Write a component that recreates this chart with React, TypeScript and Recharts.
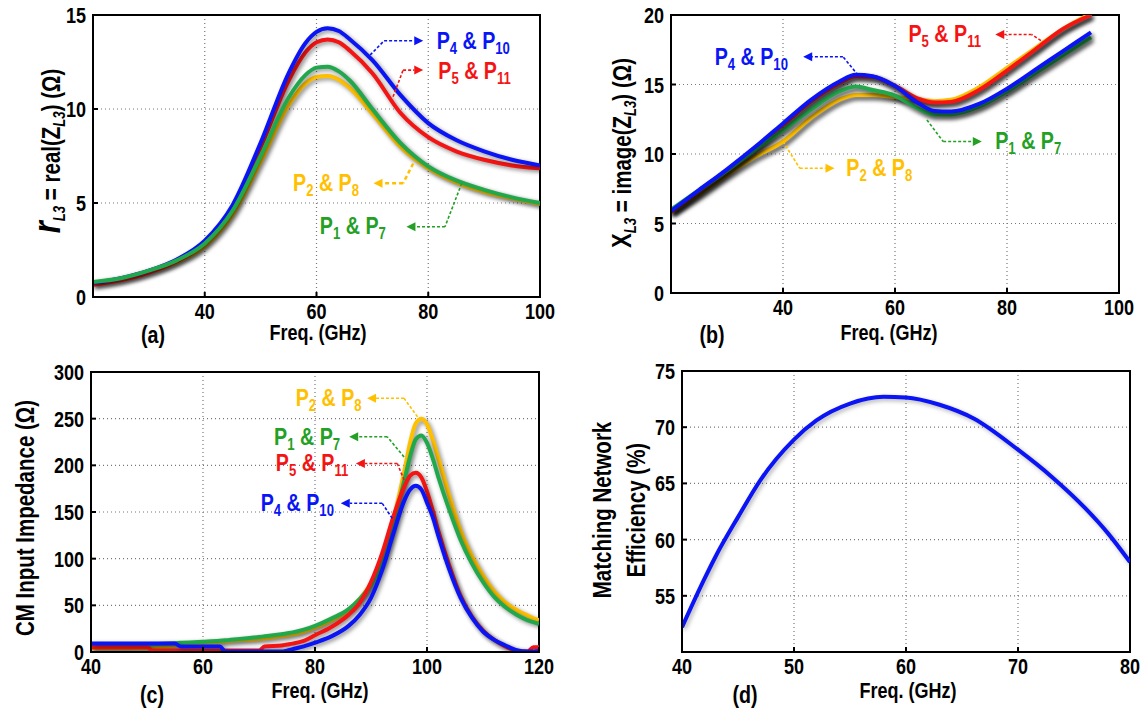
import React from "react"
import { LineChart, Line, XAxis, YAxis, CartesianGrid, ReferenceArea, ReferenceLine, ReferenceDot } from "recharts"

// no narrow font installed: squeeze Liberation Sans Bold horizontally
const FONT = '"Liberation Sans", Arial, sans-serif'
const SX = 0.82

const BLUE = "#0a14f5"
const RED = "#f51414"
const GREEN = "#22a84c"
const GREEN_TXT = "#24a024"
const ORANGE = "#ffc000"

// (a) real part of Z_L3
const freqA = [20, 25, 30, 35, 40, 45, 50, 55, 58, 60, 62, 64, 66, 70, 75, 80, 85, 90, 95, 100]
const rP4P10 = [0.75, 1.0, 1.4, 2.0, 3.0, 4.9, 8.2, 11.9, 13.5, 14.1, 14.3, 14.15, 13.7, 12.6, 10.75, 9.25, 8.35, 7.75, 7.3, 7.0]
const rP5P11 = [0.65, 0.9, 1.3, 1.9, 2.85, 4.75, 7.95, 11.5, 13.0, 13.55, 13.7, 13.55, 13.1, 11.9, 9.8, 8.5, 7.75, 7.3, 7.0, 6.85]
const rP1P7 = [0.8, 1.0, 1.4, 1.95, 2.85, 4.6, 7.5, 10.6, 11.8, 12.2, 12.25, 12.0, 11.5, 10.0, 8.2, 6.95, 6.2, 5.7, 5.3, 5.0]
const rP2P8 = [0.65, 0.9, 1.3, 1.85, 2.7, 4.4, 7.2, 10.2, 11.35, 11.7, 11.75, 11.55, 11.1, 9.75, 8.0, 6.85, 6.1, 5.6, 5.25, 4.95]

// (b) imaginary part of Z_L3
const freqB = [20, 25, 30, 35, 40, 45, 50, 53, 56, 60, 64, 67, 70, 75, 80, 85, 90, 95]
const xP4P10 = [5.9, 7.4, 8.9, 10.5, 12.2, 13.9, 15.2, 15.7, 15.6, 14.9, 13.7, 13.1, 13.05, 13.6, 14.7, 16.05, 17.4, 18.75]
const xP5P11 = [5.85, 7.35, 8.85, 10.45, 12.1, 13.8, 15.1, 15.6, 15.55, 14.9, 14.0, 13.7, 13.75, 14.6, 16.0, 17.5, 19.0, 20.0]
const xP1P7 = [6.0, 7.4, 8.8, 10.3, 11.7, 13.2, 14.5, 14.85, 14.6, 14.2, 13.3, 12.85, 12.85, 13.4, 14.5, 15.8, 17.1, 18.4]
const xP2P8 = [5.8, 7.1, 8.5, 9.8, 10.9, 12.6, 13.9, 14.25, 14.25, 14.1, 13.95, 13.8, 13.9, 14.8, 16.2, 17.6, 19.0, 20.1]

// (c) CM input impedance
const freqC = [40, 45, 50, 51, 55, 56, 60, 63, 64, 65, 70, 71, 74, 75, 76, 78, 80, 83, 86, 88, 90, 92, 94, 96, 97, 98, 99, 100, 101, 102, 104, 106, 108, 110, 112, 114, 116, 118, 119, 120]
const cmP4P10 = [9, 9, 9, 9, 9, 6, 6, 6, 0.5, 0.5, 0.5, 0.5, 0.5, 1.5, 3, 6, 10, 17, 28, 40, 58, 88, 127, 163, 174, 178, 174, 160, 145, 125, 88, 58, 37, 22, 13, 7, 2, 0.5, 0.5, 1]
const cmP5P11 = [5, 5, 5, 1.5, 1.5, 1.5, 1.5, 1.5, 1.5, 1.5, 1.5, 6, 7, 8, 9, 12, 18, 27, 40, 53, 75, 106, 145, 178, 189, 192, 187, 172, 152, 130, 92, 60, 38, 23, 13, 6, 1.5, 0.5, 5, 5]
const cmP1P7 = [7, 7, 8, 8.3, 9.5, 9.8, 11, 12, 12.5, 13, 16, 16.8, 19, 20, 21, 24, 28, 36, 46, 57, 72, 96, 135, 185, 210, 228, 232, 224, 208, 188, 152, 120, 95, 75, 59, 48, 40, 34, 32, 30]
const cmP2P8 = [4, 4, 4, 4, 7, 8, 10, 11, 11.5, 12, 14, 14.5, 17, 18, 19, 22, 26, 34, 45, 57, 74, 100, 142, 195, 225, 245, 250, 244, 228, 208, 167, 130, 103, 82, 65, 53, 45, 39, 36, 34]

// (d) matching network efficiency
const freqD = [40, 42, 43, 45, 47, 50, 52, 55, 58, 60, 63, 66, 70, 73, 76, 78, 80]
const effD = [52.2, 56.5, 58.5, 62.0, 65.3, 68.9, 70.6, 72.1, 72.7, 72.65, 72.0, 70.8, 68.0, 65.6, 62.8, 60.6, 58.0]

const ticksA = [40, 60, 80, 100]
const yTicksA = [0, 5, 10, 15]
const yTicksB = [0, 5, 10, 15, 20]
const ticksC = [40, 60, 80, 100, 120]
const yTicksC = [0, 50, 100, 150, 200, 250, 300]
const ticksD = [40, 50, 60, 70, 80]
const yTicksD = [55, 60, 65, 70, 75]

function rows(freq: number[], cols: Record<string, number[]>) {
  return freq.map((f, i) => {
    const r: any = { f }
    Object.keys(cols).forEach(k => (r[k] = cols[k][i]))
    return r
  })
}

const dataA = rows(freqA, { p2: rP2P8, p5: rP5P11, p4: rP4P10, p1: rP1P7 })
const dataB = rows(freqB, { p2: xP2P8, p5: xP5P11, p1: xP1P7, p4: xP4P10 })
const dataC = rows(freqC, { p2: cmP2P8, p1: cmP1P7, p5: cmP5P11, p4: cmP4P10 })
const dataD = rows(freqD, { eff: effD })

const COLORS: Record<string, string> = { p1: GREEN, p2: ORANGE, p4: BLUE, p5: RED, eff: BLUE }

type Ann = { color: string; a: string; b: string; tx: number; ty: number; path: number[][]; dw?: number }

const annA: Ann[] = [
  { color: BLUE, a: "4", b: "10", tx: 81.5, ty: 13.6, path: [[69.6, 12.87], [72.1, 13.63], [79.1, 13.63]] },
  { color: RED, a: "5", b: "11", tx: 81.8, ty: 12.0, path: [[73.7, 10.65], [75.5, 12.07], [79.1, 12.07]] },
  { color: ORANGE, a: "2", b: "8", tx: 55.8, ty: 6.05, path: [[77.3, 7.1], [75.5, 6.05], [70.2, 6.05]], dw: 2.5 },
  { color: GREEN_TXT, a: "1", b: "7", tx: 60.6, ty: 3.8, path: [[86.0, 6.05], [83.0, 3.74], [76.1, 3.74]] },
]
const annB: Ann[] = [
  { color: BLUE, a: "4", b: "10", tx: 27.8, ty: 17.0, path: [[53.4, 15.68], [50.7, 17.0], [43.6, 17.0]] },
  { color: ORANGE, a: "2", b: "8", tx: 51.3, ty: 8.97, path: [[40, 10.9], [43, 8.97], [49.2, 8.97]] },
  { color: RED, a: "5", b: "11", tx: 62.4, ty: 18.6, path: [[86.8, 17.96], [84.4, 18.6], [77.9, 18.6]] },
  { color: GREEN_TXT, a: "1", b: "7", tx: 77.9, ty: 10.9, path: [[65.7, 12.45], [68.6, 10.9], [75.5, 10.9]] },
]
const annC: Ann[] = [
  { color: ORANGE, a: "2", b: "8", tx: 76.55, ty: 271.8, path: [[98.3, 252], [95.9, 271.8], [89.3, 271.8]] },
  { color: GREEN_TXT, a: "1", b: "7", tx: 72.7, ty: 230.7, path: [[95.9, 209], [92.9, 230.7], [86.1, 230.7]] },
  { color: RED, a: "5", b: "11", tx: 73.0, ty: 202, path: [[95.9, 184.3], [94.7, 202], [87.3, 202]] },
  { color: BLUE, a: "4", b: "10", tx: 70.3, ty: 159.3, path: [[93.8, 143.2], [92, 159.3], [84.6, 159.3]] },
]

function NText({ x, y, anchor, size, fill, rotate, children }: any) {
  const t = `translate(${x},${y})${rotate ? " rotate(-90)" : ""} scale(${SX},1)`
  return (
    <text transform={t} textAnchor={anchor || "start"} fontSize={size} fontFamily={FONT} fontWeight={700} fill={fill || "#000"}>
      {children}
    </text>
  )
}

function ArrowSeg(p: any) {
  const { x1, y1, x2, y2, color, head, dw } = p
  const ang = Math.atan2(y2 - y1, x2 - x1)
  const L = 9, W = 4.5
  const bx = x2 - L * Math.cos(ang), by = y2 - L * Math.sin(ang)
  const px = -Math.sin(ang) * W, py = Math.cos(ang) * W
  return (
    <g>
      <line x1={x1} y1={y1} x2={head ? bx : x2} y2={head ? by : y2} stroke={color} strokeWidth={dw || 1.6} strokeDasharray={dw ? "4 3" : "3 2"} />
      {head && <polygon points={`${x2},${y2} ${bx + px},${by + py} ${bx - px},${by - py}`} fill={color} />}
    </g>
  )
}

function PLabel({ x, y, a, b, color }: any) {
  return (
    <NText x={x} y={y + 8} size={24} fill={color}>
      P<tspan fontSize={16} dy={5}>{a}</tspan><tspan dy={-5}> &amp; P</tspan><tspan fontSize={16} dy={5}>{b}</tspan>
    </NText>
  )
}

function annotations(list: Ann[]) {
  const out: any[] = []
  list.forEach((an, i) => {
    for (let k = 0; k < an.path.length - 1; k++) {
      const head = k === an.path.length - 2
      out.push(
        <ReferenceLine key={`l${i}-${k}`} segment={[{ x: an.path[k][0], y: an.path[k][1] }, { x: an.path[k + 1][0], y: an.path[k + 1][1] }]}
          shape={(p: any) => <ArrowSeg {...p} color={an.color} head={head} dw={an.dw} />} />
      )
    }
    out.push(
      <ReferenceDot key={`t${i}`} x={an.tx} y={an.ty} r={0}
        shape={(p: any) => <PLabel x={p.cx} y={p.cy} a={an.a} b={an.b} color={an.color} />} />
    )
  })
  return out
}

function Tick(p: any) {
  const { x, y, payload, textAnchor, verticalAnchor } = p
  const dy = verticalAnchor === "start" ? 15 : verticalAnchor === "end" ? 0 : 8
  return <NText x={x} y={y + dy} anchor={textAnchor} size={22}>{payload.value}</NText>
}

function Panel(props: any) {
  const { left, top, width, height, margin, yWidth, xHeight, data, keys, xDomain, xTicks, yDomain, yTicks, anns, shadow } = props
  return (
    <div style={{ position: "absolute", left, top }} className={shadow}>
      <LineChart width={width} height={height} data={data} margin={margin}>
        <CartesianGrid stroke="#777" strokeDasharray="1 3" strokeWidth={1.2} />
        <XAxis dataKey="f" type="number" domain={xDomain} ticks={xTicks} allowDataOverflow height={xHeight}
          tick={Tick} tickSize={-5} tickMargin={12} stroke="#000" strokeWidth={2} interval={0} />
        <YAxis type="number" domain={yDomain} ticks={yTicks} allowDataOverflow width={yWidth}
          tick={Tick} tickSize={-5} tickMargin={12} stroke="#000" strokeWidth={2} interval={0} />
        <ReferenceArea x1={xDomain[0]} x2={xDomain[1]} y1={yDomain[0]} y2={yDomain[1]} fill="none" fillOpacity={0} stroke="#000" strokeWidth={2} strokeOpacity={1} />
        {keys.map((k: string) => (
          <Line key={k} dataKey={k} type="monotone" stroke={COLORS[k]} strokeWidth={4} dot={false} isAnimationActive={false} />
        ))}
        {anns ? annotations(anns) : null}
      </LineChart>
    </div>
  )
}

export default function App() {
  return (
    <div style={{ position: "absolute", left: 0, top: 0, width: 1141, height: 711, background: "#fff", overflow: "hidden" }}>
      <style>{`
        .sh-a .recharts-line-curve, .sh-c .recharts-line-curve { filter: drop-shadow(2px 2px 2px rgba(0,0,0,0.45)); }
        .sh-b .recharts-line-curve { filter: drop-shadow(2px 3px 2px rgba(0,0,0,0.75)); }
        .sh-d .recharts-line-curve { filter: drop-shadow(2px 2px 2px rgba(0,0,0,0.3)); }
      `}</style>
      <Panel left={0} top={0} width={570} height={350} margin={{ top: 15, right: 30, left: 0, bottom: 0 }} yWidth={93} xHeight={53}
        data={dataA} keys={["p2", "p5", "p4", "p1"]} xDomain={[20, 100]} xTicks={ticksA} yDomain={[0, 15]} yTicks={yTicksA} anns={annA} shadow="sh-a" />
      <Panel left={570} top={0} width={571} height={350} margin={{ top: 15, right: 22, left: 0, bottom: 0 }} yWidth={101} xHeight={57}
        data={dataB} keys={["p2", "p5", "p1", "p4"]} xDomain={[20, 100]} xTicks={ticksA} yDomain={[0, 20]} yTicks={yTicksB} anns={annB} shadow="sh-b" />
      <Panel left={0} top={355} width={570} height={356} margin={{ top: 17, right: 31, left: 0, bottom: 0 }} yWidth={91} xHeight={59}
        data={dataC} keys={["p2", "p1", "p5", "p4"]} xDomain={[40, 120]} xTicks={ticksC} yDomain={[0, 300]} yTicks={yTicksC} anns={annC} shadow="sh-c" />
      <Panel left={570} top={355} width={571} height={356} margin={{ top: 16, right: 11, left: 0, bottom: 0 }} yWidth={112} xHeight={59}
        data={dataD} keys={["eff"]} xDomain={[40, 80]} xTicks={ticksD} yDomain={[50, 75]} yTicks={yTicksD} shadow="sh-d" />

      <svg width={1141} height={711} style={{ position: "absolute", left: 0, top: 0, pointerEvents: "none" }}>
        <NText x={60} y={151} rotate anchor="middle" size={25}>
          <tspan fontSize={38} fontStyle="italic">r</tspan><tspan fontSize={16} fontStyle="italic" dy={5}>L3</tspan><tspan dy={-5}> = real(Z</tspan><tspan fontSize={16} fontStyle="italic" dy={5}>L3</tspan><tspan dy={-5}>) (Ω)</tspan>
        </NText>
        <NText x={631} y={153} rotate anchor="middle" size={25}>
          <tspan fontSize={27}>X</tspan><tspan fontSize={16} fontStyle="italic" dy={5}>L3</tspan><tspan dy={-5}> = image(Z</tspan><tspan fontSize={16} fontStyle="italic" dy={5}>L3</tspan><tspan dy={-5}>) (Ω)</tspan>
        </NText>
        <NText x={34} y={518} rotate anchor="middle" size={25}>CM Input Impedance (Ω)</NText>
        <NText x={611} y={510} rotate anchor="middle" size={25}>Matching Network</NText>
        <NText x={645} y={510} rotate anchor="middle" size={25}>Efficiency (%)</NText>

        <NText x={318} y={340} anchor="middle" size={22}>Freq. (GHz)</NText>
        <NText x={889} y={340} anchor="middle" size={22}>Freq. (GHz)</NText>
        <NText x={320} y={698} anchor="middle" size={22}>Freq. (GHz)</NText>
        <NText x={908} y={698} anchor="middle" size={22}>Freq. (GHz)</NText>

        <NText x={153} y={343} anchor="middle" size={24}>(a)</NText>
        <NText x={712} y={343} anchor="middle" size={24}>(b)</NText>
        <NText x={152} y={703} anchor="middle" size={24}>(c)</NText>
        <NText x={745} y={703} anchor="middle" size={24}>(d)</NText>
      </svg>
    </div>
  )
}
